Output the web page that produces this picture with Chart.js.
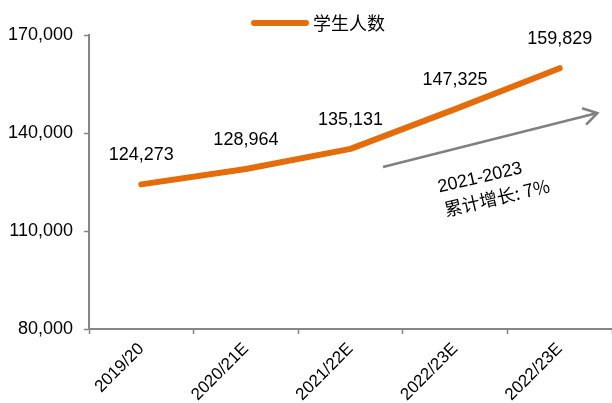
<!DOCTYPE html>
<html>
<head>
<meta charset="utf-8">
<script src="https://cdn.jsdelivr.net/npm/chart.js@4.4.0/dist/chart.umd.min.js"></script>
<style>
  html, body { margin: 0; padding: 0; background: #fff; }
  #wrap { width: 612px; height: 403px; }
</style>
</head>
<body>
<div id="wrap"><canvas id="chartAlunos"></canvas></div>
<script>
// dados do gráfico
const categorias = ['2019/20', '2020/21E', '2021/22E', '2022/23E', '2022/23E'];
const alunos = [124273, 128964, 135131, 147325, 159829];
const nomeSerie = '学生人数';
const eixoY = { min: 80000, max: 170000, passo: 30000 };

// seta e texto de crescimento (em unidades de categoria / valor)
const setaInicio = [2.31, 129600];
const setaFim = [4.36, 146100];
const textoCrescimento = ['2021-2023', '累计增长: 7%'];

const laranja = '#E46C0A';
const cinza = '#868686';
const fonteNum = '"Liberation Sans", Arial, sans-serif';
const fonteCJK = '"Noto Sans CJK SC", sans-serif';

const fmt = v => v.toLocaleString('en-US');

// rótulos de valor acima de cada ponto
const rotulosPlugin = {
    id: 'rotulos',
    afterDatasetsDraw(chart) {
        const ctx = chart.ctx;
        const meta = chart.getDatasetMeta(0);
        ctx.save();
        ctx.font = '18px ' + fonteNum;
        ctx.fillStyle = '#000';
        ctx.textAlign = 'center';
        ctx.textBaseline = 'middle';
        meta.data.forEach((pt, i) => {
            ctx.fillText(fmt(alunos[i]), pt.x, pt.y - 29);
        });
        ctx.restore();
    }
};

// legenda no topo
const legendaPlugin = {
    id: 'legenda',
    afterDraw(chart) {
        const ctx = chart.ctx;
        ctx.save();
        ctx.strokeStyle = laranja;
        ctx.lineWidth = 6;
        ctx.lineCap = 'round';
        ctx.beginPath();
        ctx.moveTo(254, 23);
        ctx.lineTo(306, 23);
        ctx.stroke();
        ctx.font = '18px ' + fonteCJK;
        ctx.fillStyle = '#000';
        ctx.textBaseline = 'middle';
        ctx.fillText(chart.data.datasets[0].label, 313, 23);
        ctx.restore();
    }
};

// seta cinza com texto
const setaPlugin = {
    id: 'seta',
    afterDraw(chart) {
        const x = chart.scales.x, y = chart.scales.y;
        const x1 = x.getPixelForValue(setaInicio[0]), y1 = y.getPixelForValue(setaInicio[1]);
        const x2 = x.getPixelForValue(setaFim[0]), y2 = y.getPixelForValue(setaFim[1]);
        const ang = Math.atan2(y2 - y1, x2 - x1);
        const ctx = chart.ctx;
        ctx.save();
        ctx.strokeStyle = '#808080';
        ctx.lineWidth = 2.5;
        ctx.beginPath();
        ctx.moveTo(x1, y1);
        ctx.lineTo(x2, y2);
        ctx.stroke();
        ctx.beginPath();
        ctx.moveTo(x2 - 16 * Math.cos(ang - 0.55), y2 - 16 * Math.sin(ang - 0.55));
        ctx.lineTo(x2, y2);
        ctx.lineTo(x2 - 16 * Math.cos(ang + 0.55), y2 - 16 * Math.sin(ang + 0.55));
        ctx.stroke();

        ctx.fillStyle = '#000';
        ctx.textAlign = 'center';
        ctx.textBaseline = 'middle';
        ctx.translate(x1 + 97, y1 + 11);
        ctx.rotate(-0.23);
        ctx.font = '18px ' + fonteNum;
        ctx.fillText(textoCrescimento[0], 0, 0);
        ctx.font = '18px ' + fonteCJK;
        ctx.fillText(textoCrescimento[1], 12, 23);
        ctx.restore();
    }
};

new Chart(document.getElementById('chartAlunos'), {
    type: 'line',
    data: {
        labels: categorias,
        datasets: [{
            label: nomeSerie,
            data: alunos,
            borderColor: laranja,
            borderWidth: 6,
            borderCapStyle: 'round',
            borderJoinStyle: 'round',
            pointRadius: 0,
            fill: false,
            tension: 0
        }]
    },
    options: {
        responsive: true,
        maintainAspectRatio: false,
        animation: false,
        layout: { padding: { top: 35, right: 0, left: 0, bottom: 0 } },
        plugins: {
            legend: { display: false },
            title: { display: false },
            tooltip: { enabled: false }
        },
        scales: {
            x: {
                offset: true,
                grid: { offset: true, drawOnChartArea: false, tickLength: 5, tickColor: cinza, tickWidth: 1.5 },
                border: { color: cinza, width: 2 },
                ticks: {
                    color: '#000',
                    font: { family: fonteNum, size: 17 },
                    maxRotation: 45,
                    minRotation: 45,
                    padding: 5
                },
                afterFit: s => { s.height = 74; }
            },
            y: {
                min: eixoY.min,
                max: eixoY.max,
                grid: { drawOnChartArea: false, tickLength: 5, tickColor: cinza, tickWidth: 1.5 },
                border: { color: cinza, width: 2 },
                ticks: {
                    stepSize: eixoY.passo,
                    color: '#000',
                    font: { family: fonteNum, size: 18 },
                    padding: 11,
                    callback: v => fmt(v)
                },
                afterFit: s => { s.width = 89; }
            }
        }
    },
    plugins: [rotulosPlugin, legendaPlugin, setaPlugin]
});
</script>
</body>
</html>
